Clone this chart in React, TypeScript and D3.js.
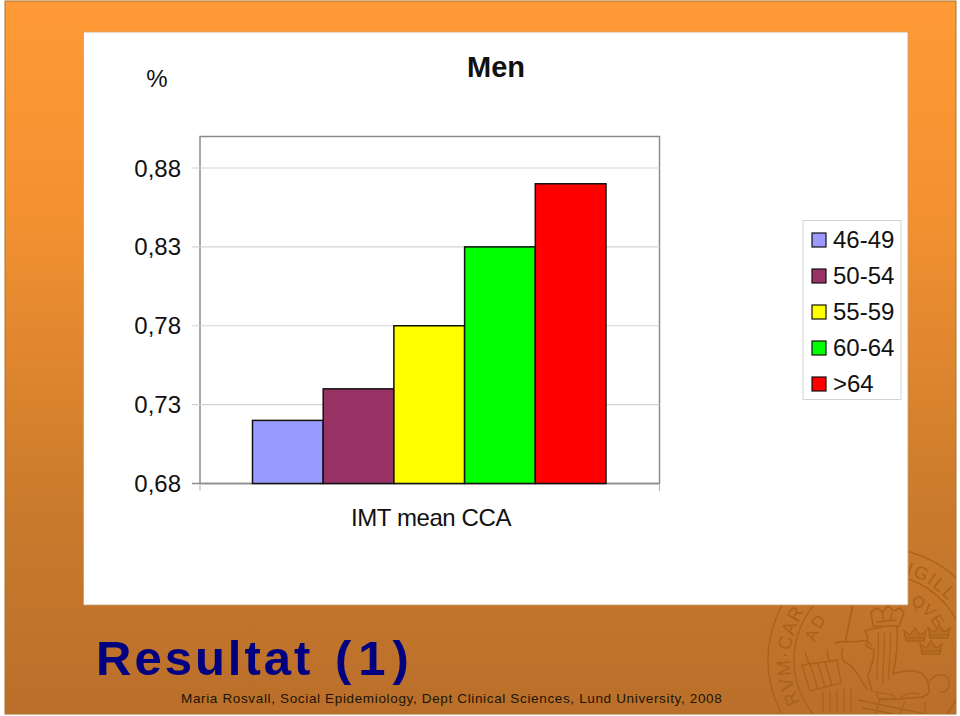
import * as d3 from "d3";

const WIDTH = 960;
const HEIGHT = 716;

const ageGroups = ["46-49", "50-54", "55-59", "60-64", ">64"];
const imtValues = [0.72, 0.74, 0.78, 0.83, 0.87];
const barColors = ["#9999ff", "#993366", "#ffff00", "#00ff00", "#ff0000"];
const yTicks = [0.68, 0.73, 0.78, 0.83, 0.88];

const FONT = "'Liberation Sans', Arial, sans-serif";
const SEAL = "#a86119";

const plot = { left: 200, right: 659.5, top: 136.5, bottom: 483.5 };

const xScale = d3.scaleBand<string>().domain(ageGroups).range([252.5, 606]);
const yScale = d3.scaleLinear().domain([0.68, 0.88]).range([plot.bottom, 168]);
const fmt = (v: number) => v.toFixed(2).replace(".", ",");

// clockwise arc for the seal lettering, angles in degrees from 12 o'clock
const sealCx = 880;
const sealCy = 660;
function sealArc(r: number, a0: number, a1: number) {
  const p = d3.path();
  const toRad = (a: number) => ((a - 90) * Math.PI) / 180;
  p.arc(sealCx, sealCy, r, toRad(a0), toRad(a1), false);
  return p.toString();
}

function Crown({ x, y }: { x: number; y: number }) {
  return (
    <g transform={`translate(${x},${y})`}>
      <path d="M -9 6 L -11 -4 L -5 0 L 0 -7 L 5 0 L 11 -4 L 9 6 Z" fill={SEAL} fillOpacity={0.35} />
      <path d="M -9 3 L 9 3" />
    </g>
  );
}

// background seal, only roughly traced, sits behind the white panel
function Seal() {
  return (
    <g fill="none" stroke={SEAL} strokeWidth={1.3} opacity={0.9}>
      <circle cx={sealCx} cy={sealCy} r={112} />
      <circle cx={sealCx} cy={sealCy} r={86} />
      <defs>
        <path id="sealLeft" d={sealArc(90, -118, -20)} />
        <path id="sealRight" d={sealArc(90, 8, 80)} />
        <path id="sealAd" d={sealArc(67, -75, -30)} />
        <path id="sealQve" d={sealArc(64, 28, 80)} />
      </defs>
      <g fontFamily={FONT} fill={SEAL} stroke="none">
        <text fontSize={19} letterSpacing={1.2}>
          <textPath href="#sealLeft">RVM·CAR</textPath>
        </text>
        <text fontSize={18} letterSpacing={1.6}>
          <textPath href="#sealRight">SIGILL</textPath>
        </text>
        <text fontSize={17} letterSpacing={2}>
          <textPath href="#sealAd">AD</textPath>
        </text>
        <text fontSize={16} letterSpacing={1}>
          <textPath href="#sealQve">QVE</textPath>
        </text>
      </g>
      {/* lion: crown, head, mane, body, tail */}
      <path d="M 873 626 L 871 612 L 877 608 L 883 612 L 888 606 L 894 611 L 900 608 L 904 613 L 899 626 Z" strokeWidth={1.6} />
      <path d="M 876 622 L 896 620 M 882 612 L 884 620 M 892 612 L 890 620" />
      <path d="M 883 627 L 872 629 L 865 631 L 868 638 L 866 646 L 874 650 L 873 660 L 868 676 L 872 692" strokeWidth={1.6} />
      <path d="M 897 626 C 898 640 896 660 893 674 C 900 672 908 670 914 671 C 925 672 930 682 929 693 L 923 697 L 897 699 L 878 699" strokeWidth={1.6} />
      <path d="M 878 632 C 880 650 876 665 877 680 M 884 632 C 886 650 882 668 883 684 M 890 632 C 892 650 888 665 889 680" strokeWidth={1.1} />
      <path d="M 929 682 C 934 674 944 672 948 678 C 952 686 946 694 940 692 M 899 699 C 905 693 912 692 920 694" strokeWidth={1.4} />
      <path d="M 876 692 L 893 695 L 896 699 L 879 700 Z" strokeWidth={1.2} />
      {/* sword and paw */}
      <path d="M 853 604 L 845 643 M 835 643 C 845 640 852 643 861 641" strokeWidth={1.6} />
      <path d="M 861 641 C 866 640 870 642 872 646 M 843 648 C 840 655 842 662 848 664 C 856 668 860 680 868 690" strokeWidth={1.4} />
      {/* book */}
      <path d="M 802 665 L 837 660 L 841 683 L 810 691 Z M 810 664 L 818 689 M 818 663 L 825 687 M 825 662 L 832 685 M 805 652 L 809 664 M 827 650 L 829 661" />
      {/* pillars and floor */}
      <path d="M 823 692 L 823 712 M 830 691 L 830 712 M 837 690 L 837 712 M 844 688 L 844 712 M 851 688 L 851 712" />
      <path d="M 858 700 L 935 716 M 862 708 L 905 716 M 880 700 L 874 716 M 905 701 L 899 716 M 925 702 L 925 716" />
      <g>
        <Crown x={915} y={635} />
        <Crown x={939} y={632} />
        <Crown x={931} y={648} />
      </g>
    </g>
  );
}

export default function App() {
  return (
    <svg
      width={WIDTH}
      height={HEIGHT}
      viewBox={`0 0 ${WIDTH} ${HEIGHT}`}
      style={{ position: "fixed", left: 0, top: 0, display: "block", background: "#fff" }}
      fontFamily={FONT}
    >
      <defs>
        <linearGradient id="bg" x1="0" y1="0" x2="0" y2="1">
          <stop offset="0" stopColor="#ff9a36" />
          <stop offset="0.3" stopColor="#f39131" />
          <stop offset="0.72" stopColor="#c97a2c" />
          <stop offset="1" stopColor="#ba6f2a" />
        </linearGradient>
        <clipPath id="frameClip">
          <rect x={5} y={1} width={951} height={713} />
        </clipPath>
      </defs>

      {/* slide background */}
      <rect x={5} y={1} width={951} height={713} fill="url(#bg)" stroke="#a8752f" strokeWidth={1} />
      <g clipPath="url(#frameClip)">
        <Seal />
      </g>
      <rect x={83.5} y={32} width={824.5} height={573} fill="#fff" stroke="#c9a070" strokeWidth={0.8} />

      {/* chart */}
      <text x={157} y={87} fontSize={24} textAnchor="middle" fill="#111">%</text>
      <text x={496} y={77} fontSize={29} fontWeight="bold" textAnchor="middle" fill="#111">Men</text>

      <rect
        x={plot.left}
        y={plot.top}
        width={plot.right - plot.left}
        height={plot.bottom - plot.top}
        fill="none"
        stroke="#8c8c8c"
        strokeWidth={1.5}
      />
      {yTicks.map((t) => (
        <g key={t}>
          <line
            x1={192}
            x2={plot.right}
            y1={yScale(t)}
            y2={yScale(t)}
            stroke={t === 0.68 ? "#8c8c8c" : "#d4d4d4"}
            strokeWidth={t === 0.68 ? 1.5 : 1.2}
          />
          <text x={181} y={yScale(t) + 8.5} fontSize={24} textAnchor="end" fill="#111">
            {fmt(t)}
          </text>
        </g>
      ))}
      <line x1={plot.left} x2={plot.left} y1={plot.bottom} y2={491} stroke="#b5b5b5" />
      <line x1={plot.right} x2={plot.right} y1={plot.bottom} y2={491} stroke="#b5b5b5" />

      {ageGroups.map((g, i) => (
        <rect
          key={g}
          x={xScale(g)}
          y={yScale(imtValues[i])}
          width={xScale.bandwidth()}
          height={plot.bottom - yScale(imtValues[i])}
          fill={barColors[i]}
          stroke="#111"
          strokeWidth={1.5}
        />
      ))}

      <text x={431} y={526} fontSize={24} textAnchor="middle" fill="#111" letterSpacing={-0.4}>
        IMT mean CCA
      </text>

      {/* legend */}
      <rect x={803} y={220.5} width={98} height={179} fill="#fff" stroke="#d4d4d4" strokeWidth={1} />
      {ageGroups.map((g, i) => {
        const cy = 240 + i * 36;
        return (
          <g key={g}>
            <rect x={812} y={cy - 7} width={14} height={14} fill={barColors[i]} stroke="#111" strokeWidth={1.2} />
            <text x={833} y={cy + 7.5} fontSize={24} fill="#111">{g}</text>
          </g>
        );
      })}

      {/* slide footer */}
      <text x={96} y={675} fontSize={49} fontWeight="bold" fill="#000080">
        <tspan letterSpacing={3}>Resultat</tspan>
        <tspan x={335} letterSpacing={7}>(1)</tspan>
      </text>
      <text x={181} y={703} fontSize={13.5} fill="#1a1408" letterSpacing={0.65}>
        Maria Rosvall, Social Epidemiology, Dept Clinical Sciences, Lund University, 2008
      </text>
    </svg>
  );
}
